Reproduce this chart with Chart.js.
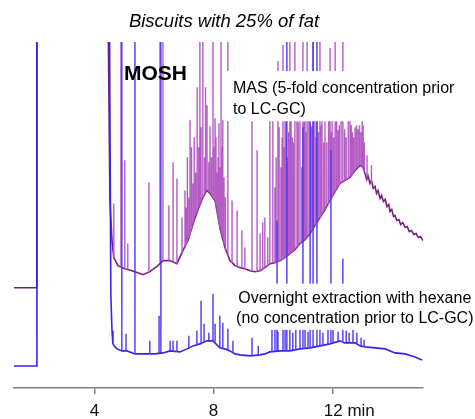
<!doctype html>
<html lang="en">
<head>
  <meta charset="utf-8">
  <title>Biscuits with 25% of fat</title>
  <script src="https://cdn.jsdelivr.net/npm/chart.js@4/dist/chart.umd.min.js"></script>
  <style>
    body { margin: 0; background: #fff; }
    .grafico { width: 475px; height: 419px; }
  </style>
</head>
<body>
<div class="grafico">
  <canvas id="myChart"></canvas>
</div>

<script>
// retention time in min, detector signal in arbitrary units (0 = axis line)
// trace = [min, signal]; peaks = [min, foot of peak, top of peak]; 400 = off scale
var masTrace = [[1.30,100],[2.07,100],[2.07,400],[4.45,400],[4.52,187],[4.59,147],[4.65,130],[4.79,122],
  [5.02,119],[5.26,117],[5.46,115],[5.63,113],[5.86,116],[6.13,122],[6.30,127],[6.54,127],[6.77,124],
  [6.97,137],[7.14,147],[7.31,164],[7.48,178],[7.64,190],[7.78,197],[7.88,194],[8.05,187],[8.21,160],
  [8.38,140],[8.55,127],[8.72,122],[8.89,120],[9.05,119],[9.22,117],[9.39,116],[9.56,117],[9.72,120],
  [9.89,124],[10.06,125],[10.23,127],[10.40,130],[10.56,134],[10.73,138],[10.90,144],[11.07,148],
  [11.24,154],[11.40,162],[11.57,170],[11.74,178],[11.91,187],[12.08,196],[12.24,204],[12.41,207],
  [12.58,210],[12.75,217],[12.92,222],[13.02,220],[13.09,213],[13.14,208],[13.18,212],[13.25,204],
  [13.30,207],[13.36,199],[13.42,201],[13.47,194],[13.52,197],[13.59,189],[13.64,192],[13.70,186],
  [13.76,188],[13.82,181],[13.88,183],[13.92,176],[13.98,178],[14.04,171],[14.09,172],[14.15,167],
  [14.22,168],[14.28,163],[14.35,165],[14.43,160],[14.50,161],[14.57,156],[14.64,157],[14.72,153],
  [14.80,154],[14.87,150],[14.95,151],[15.03,147]];

var masPeaks = [[4.65,130,184],[4.89,121,400],[5.02,119,227],[5.12,118,144],[5.83,116,205],[6.20,125,400],
  [6.30,127,400],[6.50,127,182],[6.64,126,225],[6.77,124,209],[6.94,135,170],[7.04,140,197],[7.08,143,180],
  [7.12,146,230],[7.17,149,190],[7.21,152,267],[7.26,158,240],[7.31,164,204],[7.35,168,250],[7.40,172,215],
  [7.45,176,300],[7.50,180,240],[7.54,183,400],[7.58,186,260],[7.64,190,400],[7.70,193,230],[7.73,195,300],
  [7.78,197,282],[7.84,196,225],[7.88,194,261],[7.93,192,230],[7.98,190,400],[8.00,189,240],[8.05,187,269],
  [8.08,182,250],[8.12,175,215],[8.15,170,230],[8.18,165,264],[8.21,160,220],[8.25,156,400],[8.28,153,240],
  [8.31,150,267],[8.35,143,210],[8.40,138,190],[8.48,132,400],[8.62,125,187],[8.79,121,177],[8.95,120,157],
  [9.05,119,140],[9.29,117,290],[9.46,116,237],[9.56,117,154],[9.65,118,165],[9.72,120,170],[9.82,122,150],
  [9.89,124,290],[9.99,125,290],[10.06,125,200],[10.10,125,230],[10.16,126,326],[10.20,127,260],
  [10.26,128,220],[10.30,128,250],[10.33,129,342],[10.36,129,240],[10.40,130,290],[10.44,131,280],
  [10.48,132,230],[10.52,133,255],[10.56,134,400],[10.60,135,290],[10.64,136,250],[10.68,137,245],
  [10.73,138,400],[10.80,140,290],[10.84,142,265],[10.90,144,290],[10.96,146,220],[11.00,147,400],
  [11.04,148,265],[11.07,148,290],[11.10,150,255],[11.14,151,400],[11.20,153,290],[11.26,155,262],
  [11.30,158,260],[11.34,159,400],[11.40,162,290],[11.44,163,250],[11.47,165,290],[11.52,168,255],
  [11.57,170,400],[11.60,171,262],[11.64,173,290],[11.70,176,245],[11.74,178,290],[11.80,181,245],
  [11.86,184,290],[11.91,187,339],[11.95,188,255],[11.98,190,290],[12.03,193,250],[12.08,196,400],
  [12.13,198,290],[12.18,201,257],[12.22,203,262],[12.28,205,290],[12.34,206,400],[12.40,207,258],
  [12.45,208,250],[12.52,209,290],[12.58,210,290],[12.62,212,262],[12.66,213,255],[12.70,215,250],
  [12.75,217,260],[12.80,219,262],[12.85,220,258],[12.90,222,262],[12.95,222,255],[12.99,221,290],
  [13.02,220,262],[13.06,216,245],[13.15,210,232],[13.30,204,222]];

var hexTrace = [[1.30,22],[2.07,22],[2.07,400],[4.50,400],[4.55,94],[4.59,57],[4.62,44],[4.69,41],[4.76,39],
  [4.92,37],[5.09,37],[5.36,34],[5.70,34],[6.03,34],[6.30,35],[6.54,37],[6.87,36],[7.11,39],[7.31,42],
  [7.54,44],[7.78,47],[7.98,47],[8.21,40],[8.38,39],[8.55,37],[8.72,34],[8.89,33],[9.22,32],[9.56,33],
  [9.72,34],[9.89,36],[10.23,37],[10.56,37],[10.90,39],[11.24,40],[11.57,42],[11.91,44],[12.24,47],
  [12.41,45],[12.75,45],[12.92,42],[13.09,41],[13.42,40],[13.76,39],[14.09,35],[14.43,34],[14.76,31],
  [15.00,28]];

var hexPeaks = [[4.92,37,400],[5.06,37,54],[5.36,34,400],[5.86,34,47],[6.17,35,72],[6.23,35,400],
  [6.54,37,47],[6.64,37,47],[6.77,36,47],[7.17,39,52],[7.44,43,57],[7.58,44,87],[7.68,45,64],[7.84,46,55],
  [7.98,47,94],[8.05,46,64],[8.21,40,72],[8.31,39,65],[8.48,38,59],[8.65,35,47],[9.29,32,50],[9.50,33,42],
  [9.96,36,58],[10.06,36,60],[10.13,37,167],[10.16,37,56],[10.33,37,58],[10.40,37,62],[10.46,37,400],
  [10.56,37,60],[10.66,38,55],[10.76,38,60],[10.90,39,58],[11.00,39,260],[11.07,39,58],[11.17,40,56],
  [11.24,40,270],[11.34,41,400],[11.47,41,400],[11.57,42,60],[11.67,42,55],[11.84,43,58],[11.94,44,237],
  [12.01,45,58],[12.18,46,56],[12.34,46,129],[12.45,45,57],[12.55,45,55],[12.68,45,58],[12.81,44,55],
  [12.95,42,50],[13.05,41,48]];

var tickVals = [4, 8, 12];
var tickText = ['4', '8', '12 min'];

var FONT = 'Liberation Sans, Arial, sans-serif';

function pts(list) {
  return list.map(function (p) { return {x: p[0], y: p[1]}; });
}
function spikes(list) {
  var out = [];
  list.forEach(function (p) {
    out.push({x: p[0], y: p[1]}, {x: p[0], y: p[2]}, {x: p[0], y: null});
  });
  return out;
}

// title and the text labels, with white boxes behind the two trace labels
const labels = {
  id: 'labels',
  afterDatasetsDraw(chart) {
    const c = chart.ctx, xs = chart.scales.x, ys = chart.scales.y;
    c.save();
    c.fillStyle = '#fff';
    c.fillRect(xs.getPixelForValue(8.45), ys.getPixelForValue(316), chart.width, ys.getPixelForValue(266) - ys.getPixelForValue(316));
    c.fillRect(xs.getPixelForValue(8.55), ys.getPixelForValue(104), chart.width, ys.getPixelForValue(58) - ys.getPixelForValue(104));
    c.fillStyle = '#000';
    c.textBaseline = 'alphabetic';
    c.font = 'italic 18.5px ' + FONT;
    c.textAlign = 'center';
    c.fillText('Biscuits with 25% of fat', xs.getPixelForValue(8.35), 27);
    c.font = 'bold 21px ' + FONT;
    c.textAlign = 'left';
    c.fillText('MOSH', xs.getPixelForValue(4.99), ys.getPixelForValue(307));
    c.font = '16px ' + FONT;
    c.fillText('MAS (5-fold concentration prior', xs.getPixelForValue(8.65), ys.getPixelForValue(294));
    c.fillText('to LC-GC)', xs.getPixelForValue(8.65), ys.getPixelForValue(273));
    c.textAlign = 'center';
    c.fillText('Overnight extraction with hexane', xs.getPixelForValue(12.74), ys.getPixelForValue(85));
    c.fillText('(no concentration prior to LC-GC)', xs.getPixelForValue(12.74), ys.getPixelForValue(65));
    c.restore();
  }
};

var ctx = document.getElementById('myChart').getContext('2d');
var myChart = new Chart(ctx, {
  type: 'line',
  data: {
    datasets: [
      {label: 'hexane peaks', data: spikes(hexPeaks), borderColor: '#4b36f2', borderWidth: 1.4, order: 1},
      {label: 'Overnight extraction with hexane', data: pts(hexTrace), borderColor: '#3a22ee', borderWidth: 1.6, order: 2},
      {label: 'MAS peaks', data: spikes(masPeaks), borderColor: '#b45cc4', borderWidth: 1.4, order: 3},
      {label: 'MAS', data: pts(masTrace), borderColor: '#7a1e82', borderWidth: 1.6, order: 4},
    ]
  },
  plugins: [labels],
  options: {
    responsive: true,
    maintainAspectRatio: false,
    animation: false,
    layout: {padding: {top: 42, left: 14, right: 52, bottom: -10}},
    elements: {point: {radius: 0}, line: {tension: 0}},
    datasets: {line: {clip: 0, spanGaps: false}},
    scales: {
      x: {
        type: 'linear', min: 1.30, max: 15.03,
        afterBuildTicks: (scale) => { scale.ticks = tickVals.map(v => ({value: v})); },
        grid: {drawOnChartArea: false, tickLength: 6, color: '#808080', lineWidth: 1.5},
        border: {color: '#808080', width: 1.5},
        ticks: {
          color: '#111', padding: 9, maxRotation: 0, autoSkip: false,
          font: {family: FONT, size: 17, lineHeight: 1.0},
          callback: (v) => {
            var t = tickText[tickVals.indexOf(v)];
            return t.length > 3 ? '       ' + t : t;
          }
        }
      },
      y: {display: false, min: 0, max: 345}
    },
    plugins: {legend: {display: false}, tooltip: {enabled: false}}
  }
});
</script>
</body>
</html>
